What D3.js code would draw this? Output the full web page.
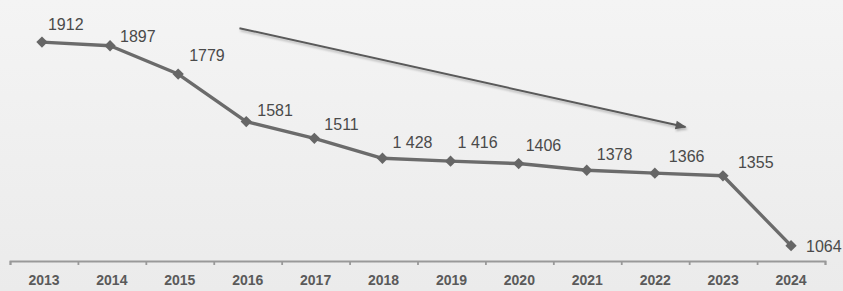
<!DOCTYPE html>
<html>
<head>
<meta charset="utf-8">
<script src="https://cdn.jsdelivr.net/npm/d3@7"></script>
<style>
  html, body { margin: 0; padding: 0; background: #efefef; }
  svg { display: block; font-family: "Liberation Sans", Arial, sans-serif; }
  .value-label { font-size: 16px; fill: #4a4a4a; }
  .x-axis text { font-size: 14px; font-weight: bold; fill: #5a5a5a; }
</style>
</head>
<body>
<div id="chart"></div>
<script>
// Jahresreihe: Linie mit Rauten, Werte als Beschriftung, Trendpfeil oben.

const years = ["2013", "2014", "2015", "2016", "2017", "2018", "2019", "2020", "2021", "2022", "2023", "2024"];
const values = [1912, 1897, 1779, 1581, 1511, 1428, 1416, 1406, 1378, 1366, 1355, 1064];
const valueLabels = ["1912", "1897", "1779", "1581", "1511", "1 428", "1 416", "1406", "1378", "1366", "1355", "1064"];

// Trendpfeil in Datenkoordinaten (Jahr, Wert)
const arrowFrom = [2015.9, 1970];
const arrowTo = [2022.45, 1558];

// Label-Versatz je Punkt (Layout, keine Daten)
const labelDx = [6, 10, 11, 11, 10, 10, 7, 7, 10, 14, 15, 15];
const labelDy = [-12, -4, -13, -6, -8, -10, -13, -13, -10, -11, -8, 6];

const W = 843, H = 291;
const AXIS_Y = 261;
const X0 = 10, X1 = 825;

const svg = d3.select("#chart").append("svg")
  .attr("width", W)
  .attr("height", H);

const defs = svg.append("defs");
const bg = defs.append("linearGradient")
  .attr("id", "bg").attr("x1", "0%").attr("x2", "0%").attr("y1", "0%").attr("y2", "100%");
bg.append("stop").attr("offset", "0%").attr("stop-color", "#f4f4f4");
bg.append("stop").attr("offset", "100%").attr("stop-color", "#ebebeb");

const shadow = defs.append("filter").attr("id", "shadow")
  .attr("x", "-10%").attr("y", "-50%").attr("width", "120%").attr("height", "200%");
shadow.append("feDropShadow")
  .attr("dx", 1).attr("dy", 2).attr("stdDeviation", 1.2)
  .attr("flood-color", "#000").attr("flood-opacity", 0.25);

defs.append("marker")
  .attr("id", "arrowhead")
  .attr("viewBox", "0 0 10 10")
  .attr("refX", 9).attr("refY", 5)
  .attr("markerWidth", 8).attr("markerHeight", 5.5)
  .attr("orient", "auto")
  .append("path")
  .attr("d", "M0,1 L10,5 L0,9 Z")
  .attr("fill", "#5a5a5a");

svg.append("rect").attr("width", W).attr("height", H).attr("fill", "url(#bg)");

// Skalen
const x = d3.scaleBand().domain(years).range([X0, X1]).padding(0);
const xEdge = d3.scaleLinear().domain([0, years.length]).range([X0, X1]);
const xYear = d3.scaleLinear()
  .domain([+years[0], +years[years.length - 1]])
  .range([x(years[0]) + x.bandwidth() / 2 - 2, x(years[years.length - 1]) + x.bandwidth() / 2]);
const y = d3.scaleLinear().domain([1000, 2000]).range([AXIS_Y, 21]);

// Achse: Linie + Striche an den Bandgrenzen
const axisG = svg.append("g")
  .attr("class", "x-axis")
  .attr("transform", `translate(0, ${AXIS_Y})`);
axisG.call(d3.axisBottom(xEdge).ticks(years.length).tickFormat("").tickSize(4).tickSizeOuter(4));
axisG.selectAll("path, line").attr("stroke", "#999").attr("stroke-width", 1.8);

svg.append("g")
  .attr("class", "x-axis")
  .attr("transform", `translate(0, ${AXIS_Y})`)
  .call(d3.axisBottom(x).tickSize(0).tickPadding(14))
  .call(g => g.select(".domain").remove());

// Trendpfeil
svg.append("line")
  .attr("x1", xYear(arrowFrom[0])).attr("y1", y(arrowFrom[1]))
  .attr("x2", xYear(arrowTo[0])).attr("y2", y(arrowTo[1]))
  .attr("stroke", "#5a5a5a")
  .attr("stroke-width", 2)
  .attr("marker-end", "url(#arrowhead)")
  .attr("filter", "url(#shadow)");

// Linie
const pts = years.map((yr, i) => ({ year: +yr, value: values[i], label: valueLabels[i], i }));
const line = d3.line().x(d => xYear(d.year)).y(d => y(d.value));

svg.append("path")
  .datum(pts)
  .attr("d", line)
  .attr("fill", "none")
  .attr("stroke", "#6b6b6b")
  .attr("stroke-width", 3.4)
  .attr("stroke-linejoin", "round");

svg.selectAll(".marker")
  .data(pts)
  .join("path")
  .attr("class", "marker")
  .attr("d", d3.symbol(d3.symbolSquare).size(64))
  .attr("transform", d => `translate(${xYear(d.year)}, ${y(d.value)}) rotate(45)`)
  .attr("fill", "#666");

svg.selectAll(".value-label")
  .data(pts)
  .join("text")
  .attr("class", "value-label")
  .attr("x", d => xYear(d.year) + labelDx[d.i])
  .attr("y", d => y(d.value) + labelDy[d.i])
  .text(d => d.label);
</script>
</body>
</html>
